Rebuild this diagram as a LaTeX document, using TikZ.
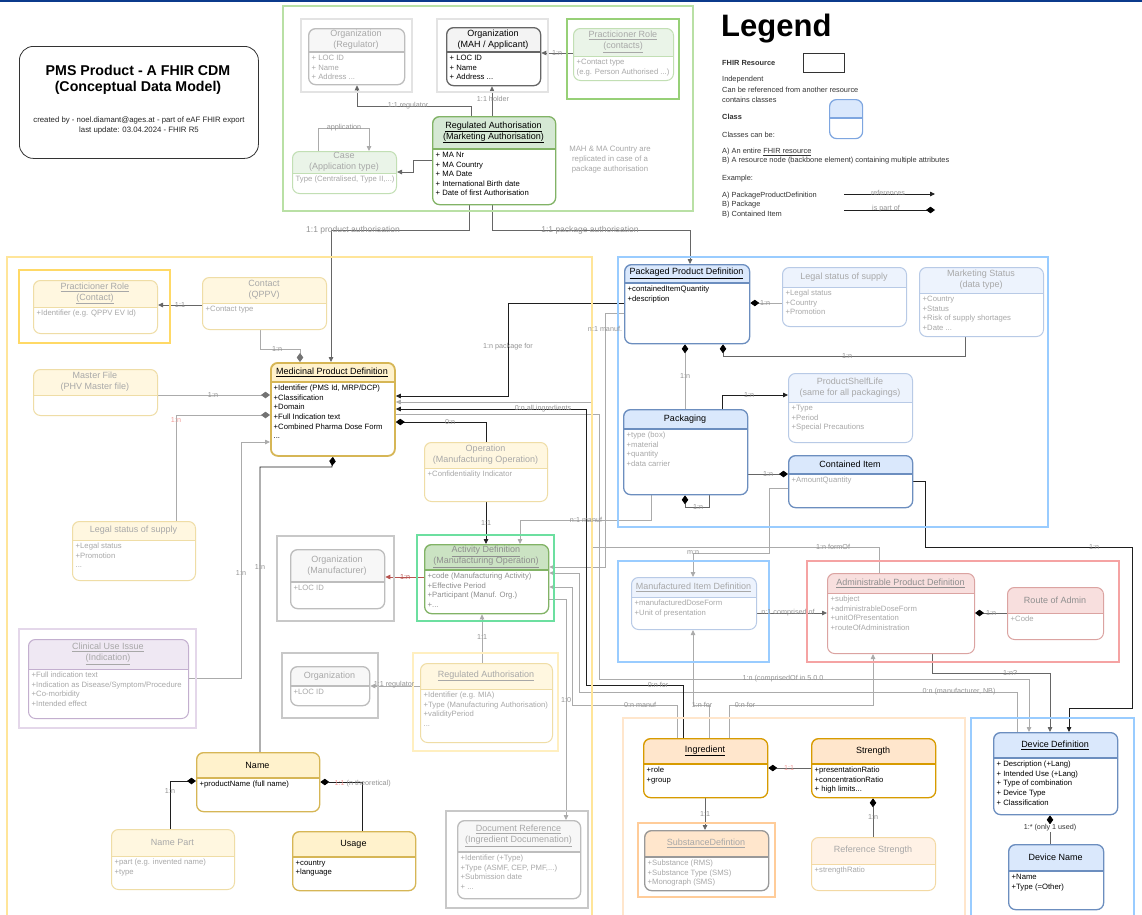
\documentclass[tikz,border=0pt]{standalone}
\usepackage{fontspec}
\setmainfont{Liberation Sans}
\usetikzlibrary{arrows.meta}
\pgfdeclarelayer{back}
\pgfdeclarelayer{bg}
\pgfsetlayers{back,bg,main}
\definecolor{navyc}{HTML}{0B3A8C}
\definecolor{goldB}{HTML}{D6B656}\definecolor{goldH}{HTML}{FFF2CC}
\definecolor{fgoldB}{HTML}{EFDDA6}\definecolor{fgoldH}{HTML}{FFF7E0}
\definecolor{greenB}{HTML}{82B366}\definecolor{greenH}{HTML}{D5E8D4}
\definecolor{actH}{HTML}{CBE3C3}
\definecolor{fgreenB}{HTML}{C2DFB4}\definecolor{fgreenH}{HTML}{EAF4E8}
\definecolor{grayB}{HTML}{BDBDBD}\definecolor{grayH}{HTML}{F7F7F7}
\definecolor{dgrayB}{HTML}{666666}\definecolor{dgrayH}{HTML}{F3F3F3}
\definecolor{blueB}{HTML}{6C8EBF}\definecolor{blueH}{HTML}{DAE8FC}
\definecolor{fblueB}{HTML}{B8CAE6}\definecolor{fblueH}{HTML}{EDF3FD}
\definecolor{fredB}{HTML}{DBA3A1}\definecolor{fredH}{HTML}{F8DFDE}
\definecolor{orangeB}{HTML}{D79B00}\definecolor{orangeH}{HTML}{FFE6CC}
\definecolor{forangeB}{HTML}{F3D9A4}\definecolor{forangeH}{HTML}{FFF2E6}
\definecolor{purpleB}{HTML}{C3AFCF}\definecolor{purpleH}{HTML}{EFE8F3}
\definecolor{subB}{HTML}{999999}
\definecolor{legB}{HTML}{7EA6E0}
\definecolor{ftxt}{HTML}{A8A8A8}\definecolor{htxt}{HTML}{8F8F8F}
\definecolor{lred}{HTML}{F19C99}\definecolor{credc}{HTML}{B85450}
\definecolor{frGray}{HTML}{E3E3E3}\definecolor{frGreen}{HTML}{97D077}
\definecolor{frYellow}{HTML}{FFD966}\definecolor{frPurple}{HTML}{E4D7EA}
\definecolor{frLight}{HTML}{C8C8C8}\definecolor{frMint}{HTML}{6CDFA0}
\definecolor{frPale}{HTML}{FFEFC0}\definecolor{frBlue}{HTML}{99CCFF}
\definecolor{frRed}{HTML}{F5A3A3}\definecolor{frOrange}{HTML}{FFCC99}
\definecolor{ctGreen}{HTML}{B9E0A5}\definecolor{ctYellow}{HTML}{FFE599}
\definecolor{ctOrange}{HTML}{FFE6CC}
\newcommand\myhf{\fontsize{9}{11}\selectfont}
\newcommand\mybf{\fontsize{7.7}{9.6}\selectfont}
\newcommand\mylf{\fontsize{7.2}{8.5}\selectfont}
\newcommand\mygf{\fontsize{7.4}{9.7}\selectfont}
\newcommand\mktype[6]{\tikzset{#1 hfill/.style={fill=#2},#1 line/.style={draw=#3,line width=#4},#1 htext/.style={text=#5,font=\myhf},#1 btext/.style={text=#6,font=\mybf}}}
\mktype{tMPD}{goldH}{goldB}{1.8pt}{black}{black}
\mktype{tGold}{goldH}{goldB}{1.3pt}{black}{black}
\mktype{tFGold}{fgoldH}{fgoldB}{1pt}{ftxt}{ftxt}
\mktype{tGreen}{greenH}{greenB}{1.3pt}{black}{black}
\mktype{tFGreen}{fgreenH}{fgreenB}{1pt}{ftxt}{ftxt}
\mktype{tAct}{actH}{greenB}{1.3pt}{htxt}{htxt}
\mktype{tFGray}{grayH}{grayB}{1.3pt}{ftxt}{ftxt}
\mktype{tDGray}{dgrayH}{dgrayB}{1.3pt}{black}{black}
\mktype{tBlue}{blueH}{blueB}{1.3pt}{black}{black}
\mktype{tBlueG}{blueH}{blueB}{1.3pt}{black}{ftxt}
\mktype{tFBlue}{fblueH}{fblueB}{1pt}{ftxt}{ftxt}
\mktype{tFRed}{fredH}{fredB}{1pt}{htxt}{ftxt}
\mktype{tOrange}{orangeH}{orangeB}{1.3pt}{black}{black}
\mktype{tFOrange}{forangeH}{forangeB}{1pt}{ftxt}{ftxt}
\mktype{tPurple}{purpleH}{purpleB}{1pt}{ftxt}{ftxt}
\mktype{tSub}{orangeH}{subB}{1.3pt}{ftxt}{ftxt}
\mktype{tLeg}{blueH}{legB}{1.2pt}{black}{black}
% #1 name #2 type #3 x1 #4 y1 #5 x2 #6 y2 #7 ysep #8 header #9 body
\newcommand\umlbox[9]{%
\fill[white,rounded corners=7pt] (#3,#4) rectangle (#5,#6);
\begin{scope}
\clip[rounded corners=7pt] (#3,#4) rectangle (#5,#6);
\fill[#2 hfill] (#3,#4) rectangle (#5,#7);
\end{scope}
\draw[#2 line] (#3,#7) -- (#5,#7);
\node[#2 line,rounded corners=7pt,inner sep=0pt,anchor=north west,minimum width={#5pt-#3pt},minimum height={#6pt-#4pt}] (#1) at (#3,#4) {};
\node[#2 htext,align=center,inner sep=0pt] (#1-h) at ({(#3+#5)/2},{(#4+#7)/2}) {#8};
\node[#2 btext,align=left,anchor=north west,inner sep=0pt] (#1-b) at ({#3+3.5},{#7+3}) {#9};
}
\newcommand\frm[5]{\draw[#1] (#2,#3) rectangle (#4,#5);}
\newcounter{lblc}
\newcommand\lbl[3][]{\stepcounter{lblc}\node[lbl,#1] (lbl\arabic{lblc}) at (#2) {#3};}
\newcommand\lgt[3][]{\stepcounter{lblc}\node[lgtxt,#1] (lgt\arabic{lblc}) at (#2) {#3};}
\begin{document}
\begin{tikzpicture}[x=1pt,y=-1pt,
  con/.style={line width=0.8pt},
  cblack/.style={con,draw=black!88},
  cmid/.style={con,draw=black!60},
  cgray/.style={con,draw=black!33},
  cred/.style={con,draw=credc},
  tri/.style={-{Triangle[length=5pt,width=4.5pt]}},
  dia/.style={-{Diamond[length=9pt,width=6.5pt]}},
  sdia/.style={{Diamond[length=9pt,width=6.5pt]}-},
  bdia/.style={-{Diamond[length=9pt,width=6.5pt,color=black]}},
  sbdia/.style={{Diamond[length=9pt,width=6.5pt,color=black]}-},
  gdia/.style={-{Diamond[length=9pt,width=6.5pt,color=black!55]}},
  lbl/.style={font=\mylf,text=black!42,inner sep=0.5pt},
  lgtxt/.style={font=\mygf,text=black!80,anchor=west,inner sep=0pt}]
\useasboundingbox (0,0) rectangle (1142,914);
\begin{pgfonlayer}{back}\fill[white] (0,0) rectangle (1142,914);\end{pgfonlayer}
\fill[navyc] (0,0) rectangle (1142,2.2);
% ---------- title ----------
\node[draw=black!80,line width=0.8pt,rounded corners=14pt,minimum width=239pt,minimum height=112pt,anchor=north west,inner sep=0pt] (titlebox) at (19,46) {};
\node[font=\fontsize{14.2}{16}\selectfont\bfseries,inner sep=0pt] (title1) at (138,70) {PMS Product - A FHIR CDM};
\node[font=\fontsize{14.2}{16}\selectfont\bfseries,inner sep=0pt] (title2) at (138,88) {(Conceptual Data Model)};
\node[font=\fontsize{7.8}{9}\selectfont,text=black!85,inner sep=0pt] (title3) at (139,120) {created by - noel.diamant@ages.at - part of eAF FHIR export};
\node[font=\fontsize{7.8}{9}\selectfont,text=black!85,inner sep=0pt] (title4) at (139,130) {last update: 03.04.2024 - FHIR R5};
% ---------- legend ----------
\node[font=\fontsize{31}{33}\selectfont\bfseries,anchor=west,inner sep=0pt] (lgTitle) at (721,29) {Legend};
\lgt{722,63}{\bfseries FHIR Resource}
\node[draw=black!80,line width=0.8pt,minimum width=41pt,minimum height=19pt,anchor=north west,inner sep=0pt] (lgRes) at (803,53) {};
\lgt{722,80}{Independent}
\lgt{722,90}{Can be referenced from another resource}
\lgt{722,100}{contains classes}
\lgt{722,117}{\bfseries Class}
\umlbox{lgClass}{tLeg}{829}{99}{862}{138}{118}{}{}
\lgt{722,135}{Classes can be:}
\lgt{722,152}{A) An entire \underline{FHIR resource}}
\lgt{722,161}{B) A resource node (backbone element) containing multiple attributes}
\lgt{722,179}{Example:}
\lgt{722,196}{A) PackageProductDefinition}
\lgt{722,205}{B) Package}
\lgt{722,215}{B) Contained Item}
\coordinate (lgR1) at (844,194); \coordinate (lgR2) at (935,194);
\coordinate (lgP1) at (844,210); \coordinate (lgP2) at (935,210);
\draw[cblack,tri] (lgR1) -- (lgR2);
\draw[cblack,bdia] (lgP1) -- (lgP2);
\lbl{888,193}{references}
\lbl{886,209}{is part of}
% ---------- containers ----------
\frm{ctGreen,line width=1.5pt}{283}{6}{693}{211}
\frm{ctYellow,line width=1.5pt}{7}{257}{592}{930}
\frm{frBlue,line width=1.8pt}{618}{257}{1048}{527}
\frm{frBlue,line width=2pt}{618}{561}{769}{662}
\frm{frRed,line width=1.5pt}{807}{561}{1119}{662}
\frm{ctOrange,line width=1.2pt}{623}{718}{965}{930}
\frm{frBlue,line width=1.5pt}{971}{718}{1134}{930}
% frames
\frm{frGray,line width=2pt}{301}{19}{412}{92}
\frm{frGray,line width=2pt}{437}{19}{548}{92}
\frm{frGreen,line width=2.2pt}{567}{19}{679}{99}
\frm{frYellow,line width=2.2pt}{19}{270}{170}{343}
\frm{frPurple,line width=1.5pt}{19}{629}{196}{728}
\frm{frLight,line width=1.2pt}{277}{536}{394}{621}
\frm{frMint,line width=2.2pt}{417}{535}{554}{621}
\frm{frLight,line width=1.2pt}{282}{653}{378}{718}
\frm{frPale,line width=2.2pt}{413}{653}{558}{751}
\frm{frLight,line width=1.2pt}{446}{811}{588}{908}
\frm{frOrange,line width=2.2pt}{638}{823}{775}{897}
% ---------- top green section ----------
\umlbox{orgReg}{tFGray}{308}{28}{404}{84}{52}{Organization\\(Regulator)}{+ LOC ID\\+ Name\\+ Address ...}
\umlbox{orgMAH}{tDGray}{446}{27}{540}{85}{52}{Organization\\(MAH / Applicant)}{+ LOC ID\\+ Name\\+ Address ...}
\umlbox{prContacts}{tFGreen}{573}{28}{673}{80}{56}{\underline{Practicioner Role}\\\underline{(contacts)}}{+Contact type\\(e.g. Person Authorised ...)}
\umlbox{regAuthMA}{tGreen}{432}{116}{555}{204}{149}{\underline{Regulated Authorisation}\\\underline{(Marketing Authorisation)}}{+ MA Nr\\+ MA Country\\+ MA Date\\+ International Birth date\\+ Date of first Authorisation}
\umlbox{caseApp}{tFGreen}{292}{151}{396}{193}{173}{Case\\(Application type)}{Type (Centralised, Type II,...)}
\node[font=\fontsize{7.8}{10}\selectfont,text=ftxt,align=center,inner sep=0pt] (note) at (610,160) {MAH \& MA Country are\\replicated in case of a\\package authorisation};
% ---------- medicinal product section ----------
\umlbox{prContact}{tFGold}{33}{280}{157}{333}{307}{\underline{Practicioner Role}\\\underline{(Contact)}}{+Identifier (e.g. QPPV EV Id)}
\umlbox{contactQPPV}{tFGold}{202}{277}{326}{329}{303}{Contact\\(QPPV)}{+Contact type}
\umlbox{masterFile}{tFGold}{33}{369}{157}{415}{395}{Master File\\(PHV Master file)}{}
\umlbox{mpd}{tMPD}{270}{362}{394}{455}{382}{\underline{Medicinal Product Definition}}{+Identifier (PMS Id, MRP/DCP)\\+Classification\\+Domain\\+Full Indication text\\+Combined Pharma Dose Form\\...}
\umlbox{legalMP}{tFGold}{72}{521}{195}{580}{540}{Legal status of supply}{+Legal status\\+Promotion\\...}
\umlbox{clinical}{tPurple}{28}{639}{188}{718}{669}{\underline{Clinical Use Issue}\\\underline{(Indication)}}{+Full indication text\\+Indication as Disease/Symptom/Procedure\\+Co-morbidity\\+Intended effect}
\umlbox{name}{tGold}{196}{752}{319}{811}{778}{Name}{+productName (full name)}
\umlbox{namePart}{tFGold}{111}{829}{234}{889}{856}{Name Part}{+part (e.g. invented name)\\+type}
\umlbox{usage}{tGold}{292}{831}{415}{890}{857}{Usage}{+country\\+language}
\umlbox{orgManuf}{tFGray}{290}{549}{384}{608}{582}{Organization\\(Manufacturer)}{+LOC ID}
\umlbox{activity}{tAct}{424}{544}{548}{613}{570}{\underline{Activity Definition}\\\underline{(Manufacturing Operation)}}{+code (Manufacturing Activity)\\+Effective Period\\+Participant (Manuf. Org.)\\+...}
\umlbox{operation}{tFGold}{424}{442}{547}{501}{468}{Operation\\(Manufacturing Operation)}{+Confidentiality Indicator}
\umlbox{regAuthMf}{tFGold}{420}{663}{552}{742}{689}{\underline{Regulated Authorisation}}{+Identifier (e.g. MIA)\\+Type (Manufacturing Authorisation)\\+validityPeriod\\...}
\umlbox{orgSmall}{tFGray}{290}{666}{369}{705}{686}{Organization}{+LOC ID}
\umlbox{docRef}{tFGray}{457}{820}{580}{898}{852}{\underline{Document Reference}\\\underline{(Ingredient Documenation)}}{+Identifier (+Type)\\+Type (ASMF, CEP, PMF,...)\\+Submission date\\+ ...}
% ---------- packaged product section ----------
\umlbox{ppd}{tBlue}{624}{264}{749}{343}{283}{\underline{Packaged Product Definition}}{+containedItemQuantity\\+description}
\umlbox{legalPkg}{tFBlue}{782}{267}{906}{326}{287}{Legal status of supply}{+Legal status\\+Country\\+Promotion}
\umlbox{mktStatus}{tFBlue}{919}{267}{1043}{336}{293}{Marketing Status\\(data type)}{+Country\\+Status\\+Risk of supply shortages\\+Date ...}
\umlbox{packaging}{tBlueG}{623}{409}{747}{494}{429}{Packaging}{+type (box)\\+material\\+quantity\\+data carrier}
\umlbox{shelfLife}{tFBlue}{788}{373}{912}{442}{402}{ProductShelfLife\\(same for all packagings)}{+Type\\+Period\\+Special Precautions}
\umlbox{containedItem}{tBlueG}{788}{455}{912}{507}{474}{Contained Item}{+AmountQuantity}
\umlbox{mid}{tFBlue}{631}{577}{756}{629}{597}{\underline{Manufactured Item Definition}}{+manufacturedDoseForm\\+Unit of presentation}
\umlbox{apd}{tFRed}{827}{573}{974}{653}{593}{\underline{Administrable Product Definition}}{+subject\\+administrableDoseForm\\+unitOfPresentation\\+routeOfAdministration}
\umlbox{route}{tFRed}{1007}{587}{1103}{639}{613}{Route of Admin}{+Code}
% ---------- ingredient / device ----------
\umlbox{ingredient}{tOrange}{643}{738}{767}{797}{764}{\underline{Ingredient}}{+role\\+group}
\umlbox{strength}{tOrange}{811}{738}{935}{797}{764}{Strength}{+presentationRatio\\+concentrationRatio\\+ high limits...}
\umlbox{substance}{tSub}{644}{830}{768}{890}{857}{\underline{SubstanceDefintion}}{+Substance (RMS)\\+Substance Type (SMS)\\+Monograph (SMS)}
\umlbox{refStrength}{tFOrange}{811}{837}{935}{890}{864}{Reference Strength}{+strengthRatio}
\umlbox{deviceDef}{tBlue}{993}{732}{1117}{814}{758}{\underline{Device Definition}}{+ Description (+Lang)\\+ Intended Use (+Lang)\\+ Type of combination\\+ Device Type\\+ Classification}
\umlbox{deviceName}{tBlue}{1008}{844}{1103}{909}{871}{Device Name}{+Name\\+Type (=Other)}
% ---------- connectors ----------
\begin{pgfonlayer}{bg}
\draw[cmid,tri] (prContacts.west |- 0,53) -- (orgMAH.east |- 0,53);
\draw[cmid,tri] (471,0 |- regAuthMA.north) -- (471,106) -| (357,0 |- orgReg.south);
\draw[cmid,tri] (492,0 |- regAuthMA.north) -- (492,0 |- orgMAH.south);
\draw[cgray,tri] (318,0 |- caseApp.north) -- (318,128) -| (369,0 |- caseApp.north);
\draw[cmid,tri] (regAuthMA.west |- 0,160) -- (413,160) |- (caseApp.east |- 0,172);
\draw[cmid,tri] (469,0 |- regAuthMA.south) -- (469,230) -| (331,0 |- mpd.north);
\draw[cmid,tri] (492,0 |- regAuthMA.south) -- (492,230) -| (690,0 |- ppd.north);
\draw[cmid,tri] (contactQPPV.west |- 0,305) -- (prContact.east |- 0,305);
\draw[cgray,gdia] (260,0 |- contactQPPV.south) -- (260,349) -| (300,0 |- mpd.north);
\draw[cgray,gdia] (masterFile.east |- 0,395) -- (mpd.west |- 0,395);
\draw[cgray,gdia] (176,0 |- legalMP.north) |- (mpd.west |- 0,415);
\draw[cgray,tri] (clinical.east |- 0,678) -| (241,442) -- (mpd.west |- 0,442);
\draw[cblack,sbdia] (mpd.south) -- (332,467) -| (260,0 |- name.north);
\draw[cblack,bdia] (170,0 |- namePart.north) |- (name.west |- 0,781);
\draw[cblack,bdia] (362,0 |- usage.north) |- (name.east |- 0,782);
\draw[cblack,sbdia] (mpd.east |- 0,422) -| (486,0 |- operation.north);
\draw[cblack,tri] (486,0 |- operation.south) -- (486,0 |- activity.north);
\draw[cred,tri] (activity.west |- 0,577) -- (orgManuf.east |- 0,577);
\draw[cgray,tri] (482,0 |- regAuthMf.north) -- (482,0 |- activity.south);
\draw[cgray,tri] (regAuthMf.west |- 0,686) -- (orgSmall.east |- 0,686);
\draw[cgray,tri] (activity.east |- 0,599) -| (566,0 |- docRef.north);
\draw[cgray,sbdia] (ppd.east |- 0,303) -- (legalPkg.west |- 0,303);
\draw[cmid,bdia] (965,0 |- mktStatus.south) -- (965,356) -| (723,0 |- ppd.south);
\draw[cgray,bdia] (685,0 |- packaging.north) -- (685,0 |- ppd.south);
\draw[cblack,tri] (722,0 |- packaging.north) |- (shelfLife.west |- 0,395);
\draw[cmid,bdia] (packaging.east |- 0,474) -- (containedItem.west |- 0,474);
\draw[cmid,sbdia] (685,0 |- packaging.south) -- (685,507) -| (709,0 |- packaging.south);
\draw[cblack,tri] (ppd.west |- 0,303) -| (508,396) -- (mpd.east |- 0,396);
\draw[cgray,tri] (ppd.west |- 0,313) -| (605,567) -- (activity.east |- 0,567);
\draw[cgray,tri] (651,0 |- packaging.south) |- (520,520) -- (520,0 |- activity.north);
\draw[cgray,tri] (879,0 |- apd.north) |- (591,547) -- (591,402) -- (mpd.east |- 0,402);
\draw[cgray,tri] (containedItem.west |- 0,488) -| (769,553) -| (693,0 |- mid.north);
\draw[cblack,tri] (containedItem.east |- 0,481) -| (925,547) -| (1132,708) -| (1069,0 |- deviceDef.north);
\draw[cmid,tri] (932,0 |- apd.south) |- (1050,673) -- (1050,0 |- deviceDef.north);
\draw[cgray,tri] (mpd.east |- 0,414) -| (599,679) -| (1029,0 |- deviceDef.north);
\draw[cgray,tri] (1017,0 |- deviceDef.north) |- (579,692) |- (activity.east |- 0,573);
\draw[cblack,tri] (683,0 |- ingredient.north) |- (586,685) |- (mpd.east |- 0,409);
\draw[cgray,tri] (677,0 |- ingredient.north) |- (572,705) |- (activity.east |- 0,587);
\draw[cgray,tri] (709,0 |- ingredient.north) |- (693,705) -- (693,0 |- mid.south);
\draw[cgray,tri] (729,0 |- ingredient.north) |- (873,705) -- (873,0 |- apd.south);
\draw[cmid,tri] (mid.east |- 0,613) -- (apd.west |- 0,613);
\draw[cmid,bdia] (route.west |- 0,613) -- (apd.east |- 0,613);
\draw[cmid,bdia] (strength.west |- 0,768) -- (ingredient.east |- 0,768);
\draw[cmid,tri] (705,0 |- ingredient.south) -- (705,0 |- substance.north);
\draw[cmid,bdia] (873,0 |- refStrength.north) -- (873,0 |- strength.south);
\draw[cmid,bdia] (1050,0 |- deviceName.north) -- (1050,0 |- deviceDef.south);
\end{pgfonlayer}
% ---------- connector labels ----------
\lbl{557,53}{1:n}
\lbl{408,106}{1:1 regulator}
\lbl{493,99}{1:1 holder}
\lbl{344,128}{application}
\lbl[font=\fontsize{8.5}{10}\selectfont]{353,230}{1:1 product authorisation}
\lbl[font=\fontsize{8.5}{10}\selectfont]{590,230}{1:1 package authorisation}
\lbl{180,305}{1:1}
\lbl{277,349}{1:n}
\lbl{213,395}{1:n}
\lbl[text=lred]{176,420}{1:n}
\lbl{241,573}{1:n}
\lbl{260,567}{1:n}
\lbl{170,791}{1:n}
\lbl[anchor=west]{334,784}{\textcolor{lred}{1:1} (n theoretical)}
\lbl{450,422}{0:n}
\lbl{486,523}{1:1}
\lbl[text=credc]{405,577}{1:n}
\lbl{482,637}{1:1}
\lbl{394,685}{1:1 regulator}
\lbl{566,700}{1:0}
\lbl{508,347}{1:n package for}
\lbl{543,409}{0:n all ingredients}
\lbl{605,329}{n:1 manuf.}
\lbl{586,520}{n:1 manuf}
\lbl{765,303}{1:n}
\lbl{847,356}{1:n}
\lbl{685,376}{1:n}
\lbl{749,395}{1:n}
\lbl{768,474}{1:n}
\lbl{698,507}{1:n}
\lbl{833,547}{1:n formOf}
\lbl{693,553}{m:n}
\lbl{1094,547}{1:n}
\lbl{788,613}{n:1 comprised of}
\lbl{991,613}{1:n}
\lbl{1010,673}{1:n?}
\lbl{783,679}{1:n (comprisedOf in 5.0.0}
\lbl{959,692}{0:n (manufacturer, NB)}
\lbl{658,685}{0:n for}
\lbl{640,705}{0:n manuf}
\lbl{702,705}{1:n for}
\lbl{745,705}{0:n for}
\lbl[text=lred]{789,768}{1:1}
\lbl{705,814}{1:1}
\lbl{873,817}{1:n}
\lbl[fill=white,text=black!80]{1050,828}{1:* (only 1 used)}
\end{tikzpicture}
\end{document}
